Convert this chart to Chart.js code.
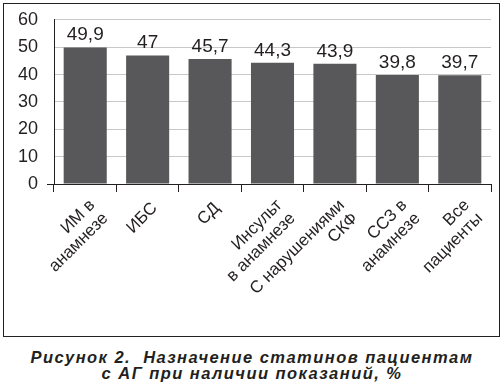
<!DOCTYPE html>
<html>
<head>
<meta charset="utf-8">
<script src="https://cdn.jsdelivr.net/npm/chart.js@4/dist/chart.umd.min.js"></script>
<style>
  html, body { margin: 0; padding: 0; background: #fff; }
  body { width: 504px; height: 390px; position: relative; overflow: hidden; }
  #box { position: absolute; left: 3px; top: 3px; width: 495px; height: 332px; border: 1.5px solid #222; }
  #wrap { position: absolute; left: 0; top: 0; width: 504px; height: 340px; }
  #cap { position: absolute; left: 0; top: 350px; width: 504px; text-align: center;
         font-family: "Liberation Sans", Arial, sans-serif; font-weight: bold; font-style: italic;
         font-size: 16.5px; line-height: 15.5px; color: #231f20; white-space: pre; letter-spacing: 1.45px; }
</style>
</head>
<body>
<div id="box"></div>
<div id="wrap"><canvas id="c" width="504" height="340"></canvas></div>
<div id="cap">Рисунок 2.  Назначение статинов пациентам
с АГ при наличии показаний, %</div>
<script>
const categories = [
  ["ИМ в", "анамнезе"],
  ["ИБС"],
  ["СД"],
  ["Инсульт", "в анамнезе"],
  ["С нарушениями", "СКФ"],
  ["ССЗ в", "анамнезе"],
  ["Все", "пациенты"]
];
const values = [49.9, 47, 45.7, 44.3, 43.9, 39.8, 39.7];
const yTicks = [0, 10, 20, 30, 40, 50, 60];

const DARK = '#231f20';
const FONT = '"Liberation Sans", Arial, sans-serif';

const valueLabels = {
  id: 'valueLabels',
  afterDatasetsDraw(chart) {
    const ctx = chart.ctx;
    const meta = chart.getDatasetMeta(0);
    ctx.save();
    ctx.fillStyle = DARK;
    ctx.font = '19px ' + FONT;
    ctx.textAlign = 'center';
    ctx.textBaseline = 'alphabetic';
    meta.data.forEach((bar, i) => {
      ctx.fillText(String(values[i]).replace('.', ','), bar.x, bar.y - 7);
    });
    ctx.restore();
  }
};

new Chart(document.getElementById('c'), {
  type: 'bar',
  data: {
    labels: categories,
    datasets: [{
      data: values,
      backgroundColor: '#58585a',
      borderWidth: 0,
      barPercentage: 0.69,
      categoryPercentage: 1.0
    }]
  },
  options: {
    responsive: false,
    animation: false,
    events: [],
    layout: { padding: { top: 17, right: 13, left: 0, bottom: 0 } },
    plugins: { legend: { display: false }, tooltip: { enabled: false }, title: { display: false } },
    scales: {
      x: {
        afterFit(scale) { scale.height = 156; },
        border: { display: true, color: DARK, width: 1 },
        grid: {
          display: true, offset: true, drawOnChartArea: false, drawTicks: true,
          tickLength: 8, tickColor: DARK, tickWidth: 1
        },
        ticks: {
          autoSkip: false, maxRotation: 45, minRotation: 45, padding: 4, labelOffset: 7,
          color: DARK,
          font: (c) => ({ family: FONT, size: 17,
            lineHeight: (c.tick && Array.isArray(c.tick.label) && c.tick.label.length === 1) ? 1.6 : 1.1 })
        }
      },
      y: {
        min: 0, max: 60,
        afterFit(scale) { scale.width = 54; },
        afterBuildTicks(scale) { scale.ticks = yTicks.map(v => ({ value: v })); },
        border: { display: true, color: DARK, width: 1 },
        grid: {
          color: (c) => c.tick && c.tick.value === 0 ? DARK : '#c8c8c8',
          lineWidth: 1,
          drawTicks: true,
          tickLength: 7,
          tickColor: (c) => c.tick && c.tick.value === 0 ? DARK : 'rgba(0,0,0,0)'
        },
        ticks: {
          padding: 9, color: DARK,
          font: { family: FONT, size: 18 }
        }
      }
    }
  },
  plugins: [valueLabels]
});
</script>
</body>
</html>
